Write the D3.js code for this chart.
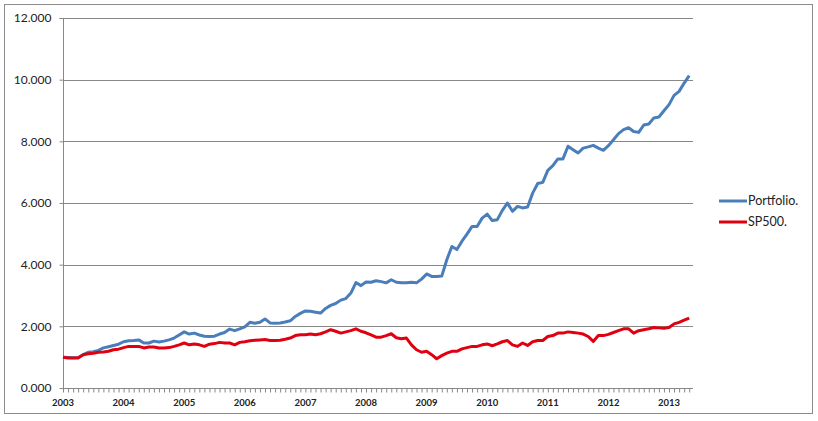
<!DOCTYPE html>
<html><head><meta charset="utf-8">
<script src="https://cdn.jsdelivr.net/npm/d3@7"></script>
<style>body{margin:0;background:#fff}svg{display:block}</style>
</head><body>
<svg id="c" width="818" height="421"></svg>
<script>
const yearLabels = ["2003","2004","2005","2006","2007","2008","2009","2010","2011","2012","2013"];
const yTicks = [0,2,4,6,8,10,12];
const seriesNames = ["Portfolio.","SP500."];
const portfolio = [1.00,0.99,0.98,0.99,1.08,1.16,1.18,1.22,1.30,1.34,1.38,1.42,
1.50,1.53,1.54,1.56,1.46,1.46,1.52,1.49,1.52,1.56,1.62,1.72,
1.82,1.75,1.78,1.72,1.68,1.67,1.68,1.75,1.80,1.91,1.86,1.92,
1.98,2.13,2.10,2.13,2.24,2.11,2.10,2.11,2.14,2.18,2.32,2.42,
2.50,2.49,2.46,2.43,2.58,2.68,2.74,2.85,2.90,3.08,3.42,3.32,
3.44,3.43,3.48,3.45,3.41,3.51,3.43,3.41,3.41,3.43,3.41,3.53,
3.70,3.62,3.62,3.63,4.16,4.59,4.49,4.76,4.99,5.24,5.24,5.51,
5.64,5.43,5.46,5.76,6.00,5.73,5.89,5.84,5.87,6.32,6.63,6.67,
7.06,7.21,7.43,7.43,7.84,7.73,7.62,7.78,7.82,7.87,7.78,7.71,
7.86,8.05,8.25,8.38,8.44,8.32,8.29,8.53,8.56,8.76,8.79,8.99,
9.19,9.49,9.62,9.89,10.13];
const sp500 = [1.00,0.97,0.97,0.97,1.08,1.11,1.13,1.16,1.17,1.19,1.24,1.26,
1.31,1.35,1.35,1.35,1.30,1.33,1.33,1.30,1.30,1.31,1.35,1.40,
1.46,1.40,1.43,1.40,1.35,1.42,1.44,1.48,1.46,1.46,1.40,1.48,
1.50,1.53,1.55,1.56,1.57,1.54,1.54,1.55,1.58,1.62,1.70,1.73,
1.73,1.75,1.73,1.76,1.82,1.89,1.84,1.78,1.82,1.86,1.92,1.84,
1.79,1.72,1.65,1.65,1.70,1.76,1.63,1.60,1.62,1.40,1.24,1.16,
1.19,1.08,0.95,1.05,1.13,1.19,1.19,1.27,1.31,1.35,1.35,1.40,
1.43,1.37,1.43,1.50,1.54,1.40,1.35,1.46,1.38,1.50,1.54,1.54,
1.67,1.70,1.78,1.78,1.82,1.80,1.78,1.75,1.67,1.51,1.70,1.70,
1.74,1.80,1.86,1.92,1.92,1.78,1.86,1.89,1.92,1.96,1.95,1.94,
1.96,2.08,2.13,2.20,2.27];
const colors = ["#4A7EBB","#E00010"];

const svg = d3.select("#c");
const font = "Lato, 'Open Sans', sans-serif";
svg.append("rect").attr("x",4.5).attr("y",4.5).attr("width",808).attr("height",409)
  .attr("fill","#fff").attr("stroke","#8c8c8c").attr("stroke-width",1);

const L = 63, R = 693, T = 18, B = 388;
const x = d3.scaleLinear().domain([0,124.75]).range([L,R]);
const y = d3.scaleLinear().domain([0,12]).range([B,T]);

// gridlines
svg.append("g").selectAll("line").data(yTicks.filter(d=>d>0)).join("line")
  .attr("x1",L).attr("x2",R)
  .attr("y1",d=>Math.round(y(d))+0.5).attr("y2",d=>Math.round(y(d))+0.5)
  .attr("stroke","#888").attr("stroke-width",1);

// y axis
const ya = svg.append("g").attr("transform",`translate(${L+0.5},0)`)
  .call(d3.axisLeft(y).tickValues(yTicks).tickSize(4).tickPadding(8)
    .tickFormat(d=>d3.format(".3f")(d)));
ya.select(".domain").attr("stroke","#888").attr("d",`M-4,${T+0.5}H0V${B+3}`);
ya.selectAll(".tick line").attr("stroke","#888");
ya.selectAll(".tick text").attr("font-family",font).attr("font-size","12px").attr("fill","#222");

// x axis: monthly minor ticks
const monthTicks = d3.range(0, portfolio.length);
const xa = svg.append("g").attr("transform",`translate(0,${B+0.5})`)
  .call(d3.axisBottom(x).tickValues(monthTicks).tickSize(4).tickFormat(""));
xa.select(".domain").attr("stroke","#888").attr("d",`M${L},0H${R}`);
xa.selectAll(".tick line").attr("stroke","#888");
svg.append("g").selectAll("text").data(yearLabels).join("text")
  .attr("x",(d,i)=>x(i*12)).attr("y",B+18)
  .attr("text-anchor","middle").attr("font-family",font).attr("font-size","9.5px")
  .attr("font-weight","bold").attr("fill","#222").text(d=>d);

// lines
const line = d3.line().x((d,i)=>x(i)).y(d=>y(d));
[portfolio, sp500].forEach((s,k)=>{
  svg.append("path").datum(s).attr("d",line).attr("fill","none")
    .attr("stroke",colors[k]).attr("stroke-width",3).attr("stroke-linejoin","round");
});

// legend
const lg = svg.append("g");
seriesNames.forEach((n,k)=>{
  const yy = 201 + k*21;
  lg.append("line").attr("x1",719).attr("x2",747).attr("y1",yy).attr("y2",yy)
    .attr("stroke",colors[k]).attr("stroke-width",3);
  lg.append("text").attr("x",748).attr("y",yy+4).attr("font-family",font)
    .attr("font-size","12.5px").attr("fill","#222").text(n);
});
</script>
</body></html>
